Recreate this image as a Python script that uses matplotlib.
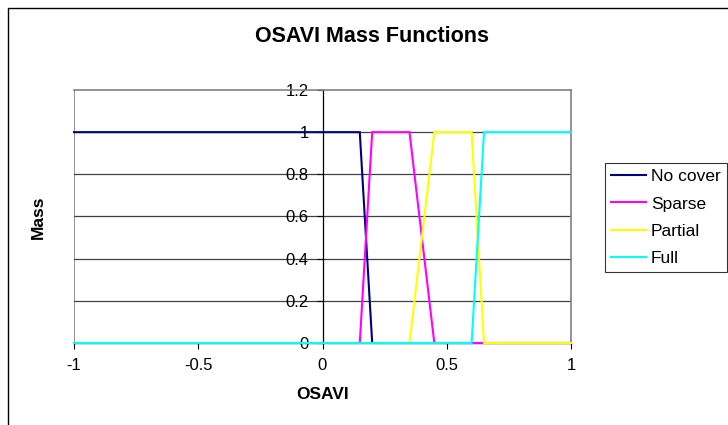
import matplotlib
matplotlib.use("Agg")
import matplotlib.pyplot as plt
from matplotlib.patches import Rectangle

plt.rcParams['font.family'] = ['Liberation Sans', 'DejaVu Sans']

# Data
osavi = [-1.0, 0.15, 0.2, 0.35, 0.45, 0.6, 0.65, 1.0]
no_cover = [1, 1, 0, 0, 0, 0, 0, 0]
sparse = [0, 0, 1, 1, 0, 0, 0, 0]
partial = [0, 0, 0, 0, 1, 1, 0, 0]
full = [0, 0, 0, 0, 0, 0, 1, 1]
series_names = ["No cover", "Sparse", "Partial", "Full"]
series_colors = ["#000080", "#FF00FF", "#FFFF00", "#00FFFF"]
x_ticks = [-1, -0.5, 0, 0.5, 1]
x_tick_labels = ["-1", "-0.5", "0", "0.5", "1"]
y_ticks = [0, 0.2, 0.4, 0.6, 0.8, 1.0, 1.2]
y_tick_labels = ["0", "0.2", "0.4", "0.6", "0.8", "1", "1.2"]

W, H = 728, 425
fig = plt.figure(figsize=(W / 100, H / 100), dpi=100)
L, R, T, B = 74, 571, 90, 343
ax = fig.add_axes([L / W, 1 - B / H, (R - L) / W, (B - T) / H])

for ys, name, c in zip([no_cover, sparse, partial, full], series_names, series_colors):
    ax.plot(osavi, ys, color=c, lw=1.5, label=name, solid_joinstyle='miter', zorder=3, clip_on=False)

ax.set_xlim(-1, 1)
ax.set_ylim(0, 1.2)
ax.set_xticks(x_ticks)
ax.set_xticklabels(x_tick_labels)
ax.set_yticks(y_ticks)
ax.set_yticklabels(y_tick_labels)

for yv in y_ticks[1:-1]:
    ax.axhline(yv, color='#404040', lw=0.9, zorder=1)

for s in ['top', 'right']:
    ax.spines[s].set_color('#808080')
    ax.spines[s].set_linewidth(1.2)
ax.spines['left'].set_position(('data', 0))
ax.spines['left'].set_color('black')
ax.spines['left'].set_linewidth(0.9)
ax.spines['bottom'].set_color('black')
ax.spines['bottom'].set_linewidth(0.9)
# plot-area left border
ax.axvline(-1, color='#808080', lw=1.2, zorder=0.5)

ax.tick_params(axis='y', direction='out', length=4, width=0.8, labelsize=12, pad=6)
ax.tick_params(axis='x', direction='out', length=4, width=0.8, labelsize=12, pad=7)

ax.set_xlabel("OSAVI", fontsize=12.5, fontweight='bold', labelpad=10)
fig.text(38 / W, 1 - 217 / H, "Mass", rotation=90, fontsize=12.5, fontweight='bold',
         ha='center', va='center')
fig.text(372 / W, 1 - 37 / H, "OSAVI Mass Functions", fontsize=15.5, fontweight='bold',
         ha='center', va='center')

leg = fig.legend(loc='upper left', bbox_to_anchor=(605 / W, 1 - 163 / H), fontsize=12.5,
                 frameon=True, fancybox=False, edgecolor='black', borderpad=0.35,
                 handlelength=2.0, handletextpad=0.3, labelspacing=0.7, borderaxespad=0)
leg.get_frame().set_linewidth(0.8)
for h in leg.get_lines():
    h.set_linewidth(1.5)

# outer chart border
fig.patches.append(Rectangle((8 / W, -0.02), 1.0, 1 - 8 / H + 0.02, transform=fig.transFigure,
                             fill=False, edgecolor='black', lw=1.0))

fig.savefig("out.png", dpi=100)
